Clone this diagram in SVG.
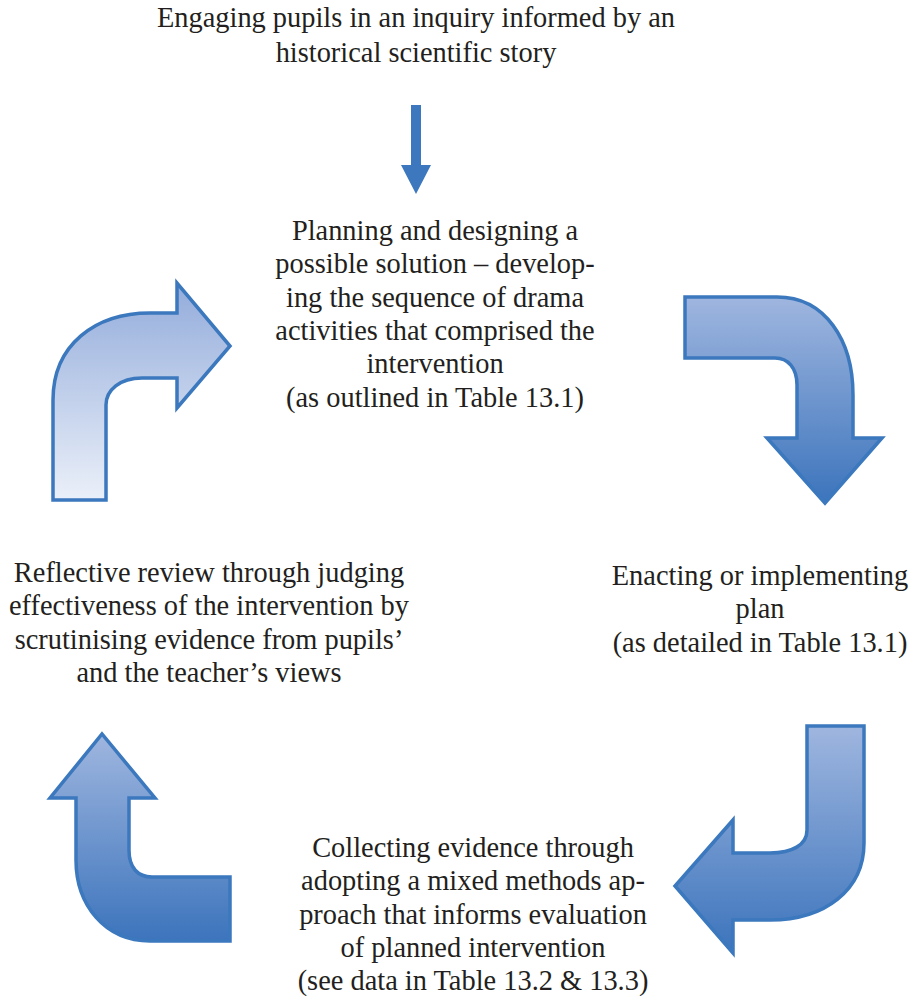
<svg xmlns="http://www.w3.org/2000/svg" width="918" height="996" viewBox="0 0 918 996">
<defs>
<style>
text{font-family:"Liberation Serif","Times New Roman",serif;font-size:28.4px;fill:#231f20;text-anchor:middle}
.arr{stroke:#3b78bd;stroke-width:3.5;stroke-linejoin:miter}
</style>
<linearGradient id="gLight" x1="0" y1="0" x2="0" y2="1">
<stop offset="0" stop-color="#93acdb"/>
<stop offset="1" stop-color="#ebf0f9"/>
</linearGradient>
<linearGradient id="gDark" x1="0" y1="0" x2="0" y2="1">
<stop offset="0" stop-color="#9fb6df"/>
<stop offset="1" stop-color="#3c74bc"/>
</linearGradient>
</defs>
<rect width="918" height="996" fill="#ffffff"/>
<g id="connectors">
<path id="arrow-top" d="M411 105 H421 V165 H431 L416 194 L401 165 H411 Z" fill="#3d78bf"/>
<path id="arrow-left-up" class="arr" fill="url(#gLight)" d="M53 500 V400 C53 345 95 313 150 313 H177 V283 L230 346 L177 408 V378 H142 C120 378 106 390 106 405 V500 Z"/>
<path id="arrow-right-down" class="arr" fill="url(#gDark)" d="M685 297 H777 C825 297 853 340 853 395 V438 H882 L825 503 L767 438 H797 V385 C797 368 788 358 775 358 H685 Z"/>
<path id="arrow-bottom-right" class="arr" fill="url(#gDark)" d="M807 726 H864 V843 C864 890 825 920 770 920 H733 V953 L675 886 L733 820 V853 H770 C792 853 807 845 807 830 Z"/>
<path id="arrow-bottom-left" class="arr" fill="url(#gDark)" d="M230 877 V941 H150 C105 941 76 905 76 860 V798 H50 L102 734 L155 798 H129 V850 C129 868 138 877 152 877 Z"/>
</g>
<g id="node-top">
<text x="416" y="27">Engaging pupils in an inquiry informed by an</text>
<text x="416" y="62">historical scientific story</text>
</g>
<g id="node-plan">
<text x="435" y="240">Planning and designing a</text>
<text x="435" y="273">possible solution – develop-</text>
<text x="435" y="307">ing the sequence of drama</text>
<text x="435" y="340">activities that comprised the</text>
<text x="435" y="373">intervention</text>
<text x="435" y="407">(as outlined in Table 13.1)</text>
</g>
<g id="node-enact">
<text x="760" y="585">Enacting or implementing</text>
<text x="760" y="618">plan</text>
<text x="760" y="652">(as detailed in Table 13.1)</text>
</g>
<g id="node-collect">
<text x="473" y="857">Collecting evidence through</text>
<text x="473" y="890">adopting a mixed methods ap-</text>
<text x="473" y="924">proach that informs evaluation</text>
<text x="473" y="957">of planned intervention</text>
<text x="473" y="990">(see data in Table 13.2 &amp; 13.3)</text>
</g>
<g id="node-review">
<text x="209" y="582">Reflective review through judging</text>
<text x="209" y="615">effectiveness of the intervention by</text>
<text x="209" y="649">scrutinising evidence from pupils’</text>
<text x="209" y="682">and the teacher’s views</text>
</g>
</svg>
